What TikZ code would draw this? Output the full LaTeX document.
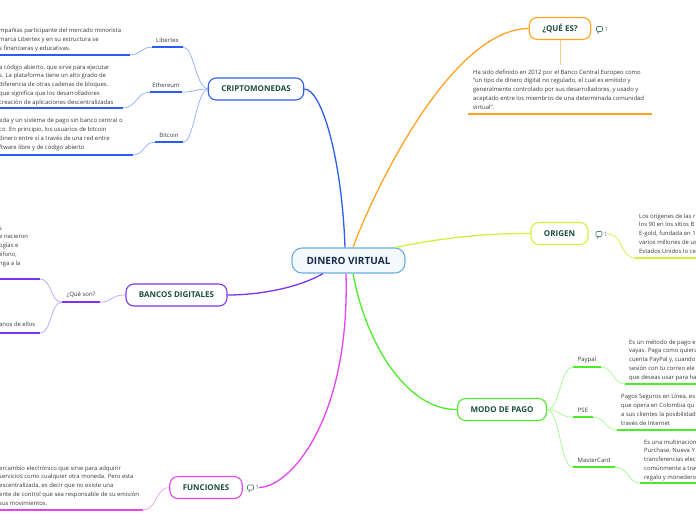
\documentclass[tikz,border=0pt]{standalone}
\usepackage{fontspec}
\setmainfont{Open Sans}
\usetikzlibrary{positioning}

\definecolor{cblue}{HTML}{2B5EF0}
\definecolor{cbluel}{HTML}{8FAEFA}
\definecolor{cpurp}{HTML}{7A34F0}
\definecolor{cpurpl}{HTML}{BCA0F8}
\definecolor{cmag}{HTML}{E444F0}
\definecolor{cmagl}{HTML}{F09CF6}
\definecolor{cgreen}{HTML}{4CEC2A}
\definecolor{cgreenl}{HTML}{A4F78E}
\definecolor{cyel}{HTML}{D2F03C}
\definecolor{corange}{HTML}{FFA320}
\definecolor{corangel}{HTML}{FFCD80}
\definecolor{cdin}{HTML}{6AAEE0}
\definecolor{cdinfill}{HTML}{F4F9FE}
\definecolor{cdintext}{HTML}{182A4C}
\definecolor{topictext}{HTML}{1C4C3E}
\definecolor{textgray}{HTML}{3A3A3A}
\definecolor{notec}{HTML}{4F7F70}

\begin{document}
\begin{tikzpicture}[
x=1pt, y=-1pt,
core/.style={
    draw=cdin,
    fill=cdinfill,
    line width=1.1pt,
    rounded corners=10pt,
    minimum width=113pt,
    minimum height=25pt,
    inner sep=0pt,
    text=cdintext,
    font=\fontsize{10}{12}\selectfont\bfseries
},
topic/.style={
    draw,
    line width=1.1pt,
    rounded corners=8pt,
    minimum height=22pt,
    inner xsep=13pt,
    inner ysep=0pt,
    text=topictext,
    font=\fontsize{8}{9}\selectfont\bfseries
},
sub/.style={minimum height=14pt, inner sep=0pt, text=textgray, font=\fontsize{6}{7}\selectfont},
txt/.style={anchor=base west, align=left, inner sep=0pt, text=textgray, font=\fontsize{5.9}{8.75}\selectfont},
main/.style={line width=1.3pt},
twig/.style={line width=0.7pt},
uline/.style={line width=1.8pt},
bubble/.style={draw=notec, line width=0.6pt, rounded corners=1pt, minimum width=6pt, minimum height=5pt, inner sep=0pt},
num/.style={inner sep=0pt, text=notec, font=\fontsize{6}{7}\selectfont}
]
\useasboundingbox (0,0) rectangle (696,520);

\node[core] (dinero) at (348.5,260.5) {DINERO VIRTUAL};

\node[topic, draw=cblue] (cripto) at (256,89) {CRIPTOMONEDAS};
\node[topic, draw=cpurp] (bancos) at (176.5,295) {BANCOS DIGITALES};
\node[topic, draw=cmag] (func) at (206,487.5) {FUNCIONES};
\node[topic, draw=corange] (quees) at (560,28.5) {¿QUÉ ES?};
\node[topic, draw=cyel] (origen) at (559.5,233.5) {ORIGEN};
\node[topic, draw=cgreen] (modo) at (502,409.5) {MODO DE PAGO};

\node[bubble] (qesbub) at (599.5,29) {};
\node[num, right=1.5pt of qesbub] (qesnum) {1};
\node[bubble] (oribub) at (599,234) {};
\node[num, right=1.5pt of oribub] (orinum) {1};
\node[bubble] (funbub) at (250.5,487.5) {};
\node[num, right=1.5pt of funbub] (funnum) {1};
\foreach \b in {qesbub,oribub,funbub}
    \draw[notec, line width=0.6pt] ([xshift=-0.5pt]\b.south) -- ([xshift=-2pt,yshift=-1.8pt]\b.south);

\node[sub, minimum width=31pt] (libertex) at (167.5,40) {Libertex};
\node[sub, minimum width=32pt] (ethereum) at (166,85) {Ethereum};
\node[sub, minimum width=28pt] (bitcoin) at (169,135) {Bitcoin};
\node[sub, minimum width=38pt] (queson) at (81,295) {¿Qué son?};
\node[sub, minimum width=28pt] (paypal) at (587,360) {Paypal};
\node[sub, minimum width=20pt] (pse) at (583,410) {PSE};
\node[sub, minimum width=42pt] (mastercard) at (594,460) {MasterCard};

% base anchor sits on the last line
\node[txt] (libtxt) at (-1,50) {mpañías participante del mercado minorista\\marca Libertex y en su estructura se\\s financieras y educativas.};
\node[txt] (ethtxt) at (-1,104) {a código abierto, que sirve para ejecutar\\s. La plataforma tiene un alto grado de\\diferencia de otras cadenas de bloques.\\que significa que los desarrolladores\\creación de aplicaciones descentralizadas};
\node[txt] (bittxt) at (-1,149) {eda y un sistema de pago sin banco central o\\co. En principio, los usuarios de bitcoin\\dinero entre sí a través de una red entre\\ftware libre y de código abierto};
\node[txt] (bantxt) at (-1,265) {s\\e nacieron\\ogías e\\éfono,\\nga a la};
\node[txt] (bantxtb) at (-1,326) {anos de ellos};
\node[txt] (funtxt) at (-1,505) {ercambio electrónico que sirve para adquirir\\servicios como cualquier otra moneda. Pero esta\\escentralizada, es decir que no existe una\\ente de control que sea responsable de su emisión\\sus movimientos.};
\node[txt] (qeztxt) at (473,109) {Ha sido definido en 2012 por el Banco Central Europeo como\\“un tipo de dinero digital no regulado, el cual es emitido y\\generalmente controlado por sus desarrolladores, y usado y\\aceptado entre los miembros de una determinada comunidad\\virtual”.};
\node[txt] (oritxt) at (639,253) {Los orígenes de las r\\los 90 en los sitios B\\E-gold, fundada en 1\\varios millones de us\\Estados Unidos lo ce};
\node[txt] (paytxt) at (629,379) {Es un método de pago e\\vayas. Paga como quiera\\cuenta PayPal y, cuando\\sesión con tu correo ele\\que deseas usar para ha};
\node[txt] (psetxt) at (621,425) {Pagos Seguros en Línea, es\\que opera en Colombia qu\\a sus clientes la posibilidad\\través de Internet};
\node[txt] (mctxt) at (644,479) {Es una multinacion\\Purchase, Nueva Y\\transferencias elec\\comúnmente a trav\\regalo y monedero};

\coordinate (libA) at (-2,55);   \coordinate (libB) at (130,55);
\coordinate (ethA) at (-2,108);  \coordinate (ethB) at (123,108);
\coordinate (bitA) at (-2,155);  \coordinate (bitB) at (133,155);
\coordinate (banA) at (-2,279);  \coordinate (banB) at (40,279);
\coordinate (banC) at (-2,333);  \coordinate (banD) at (40,333);
\coordinate (funA) at (-2,510);  \coordinate (funB) at (143,510);
\coordinate (qezT) at (560,65);
\coordinate (qezA) at (468,114); \coordinate (qezB) at (652,114);
\coordinate (oriA) at (635,258); \coordinate (oriB) at (698,258);
\coordinate (payA) at (625,384); \coordinate (payB) at (698,384);
\coordinate (pseA) at (617,430); \coordinate (pseB) at (698,430);
\coordinate (mcA) at (640,483);  \coordinate (mcB) at (698,483);

\draw[main, cblue] (cripto.east) .. controls (322,89) and (342,160) .. ([xshift=-3.5pt]dinero.north);
\draw[main, corange] ([xshift=4.5pt]dinero.north) .. controls (372,195) and (450,29) .. (quees.west);
\draw[main, cyel] ([xshift=-10pt]dinero.north east) .. controls (430,240) and (480,233) .. (origen.west);
\draw[main, cpurp] ([xshift=-25.5pt]dinero.south) .. controls (300,287) and (262,295) .. (bancos.east);
\draw[main, cmag] ([xshift=-2.5pt]dinero.south) .. controls (350,420) and (290,487) .. (funnum.east);
\draw[main, cgreen] ([xshift=4.5pt]dinero.south) .. controls (365,340) and (405,410) .. (modo.west);

\draw[twig, cbluel] (cripto.west) .. controls (195,86) and (194,47) .. (libertex.south east);
\draw[twig, cbluel] (cripto.west) .. controls (196,89) and (194,92) .. (ethereum.south east);
\draw[twig, cbluel] (cripto.west) .. controls (196,92) and (194,142) .. (bitcoin.south east);
\draw[twig, cbluel] (libertex.south west) .. controls (141,47) and (141,55) .. (libB);
\draw[twig, cbluel] (ethereum.south west) .. controls (137,92) and (136,108) .. (ethB);
\draw[twig, cbluel] (bitcoin.south west) .. controls (144,142) and (144,155) .. (bitB);
\draw[uline, cblue] (libertex.south west) -- (libertex.south east);
\draw[uline, cblue] (ethereum.south west) -- (ethereum.south east);
\draw[uline, cblue] (bitcoin.south west) -- (bitcoin.south east);
\draw[uline, cblue] (libA) -- (libB);
\draw[uline, cblue] (ethA) -- (ethB);
\draw[uline, cblue] (bitA) -- (bitB);

\draw[twig, cpurpl] (bancos.west) .. controls (110,295) and (113,302) .. (queson.south east);
\draw[twig, cpurpl] (queson.south west) .. controls (50,302) and (52,279) .. (banB);
\draw[twig, cpurpl] (queson.south west) .. controls (50,302) and (52,333) .. (banD);
\draw[uline, cpurp] (queson.south west) -- (queson.south east);
\draw[uline, cpurp] (banA) -- (banB);
\draw[uline, cpurp] (banC) -- (banD);

\draw[twig, cmagl] (func.west) .. controls (156,487) and (157,510) .. (funB);
\draw[uline, cmag] (funA) -- (funB);

\draw[twig, corangel] (quees.south) -- (qezT);
\draw[uline, corange] (qezA) -- (qezB);

\draw[twig, cyel] (orinum.east) .. controls (624,234) and (620,258) .. (oriA);
\draw[uline, cyel] (oriA) -- (oriB);

\draw[twig, cgreenl] (modo.east) .. controls (560,410) and (560,367) .. (paypal.south west);
\draw[twig, cgreenl] (modo.east) .. controls (560,410) and (560,417) .. (pse.south west);
\draw[twig, cgreenl] (modo.east) .. controls (560,410) and (560,467) .. (mastercard.south west);
\draw[twig, cgreenl] (paypal.south east) .. controls (613,367) and (613,384) .. (payA);
\draw[twig, cgreenl] (pse.south east) .. controls (605,417) and (605,430) .. (pseA);
\draw[twig, cgreenl] (mastercard.south east) .. controls (628,467) and (628,483) .. (mcA);
\draw[uline, cgreen] (paypal.south west) -- (paypal.south east);
\draw[uline, cgreen] (pse.south west) -- (pse.south east);
\draw[uline, cgreen] (mastercard.south west) -- (mastercard.south east);
\draw[uline, cgreen] (payA) -- (payB);
\draw[uline, cgreen] (pseA) -- (pseB);
\draw[uline, cgreen] (mcA) -- (mcB);

\end{tikzpicture}
\end{document}
